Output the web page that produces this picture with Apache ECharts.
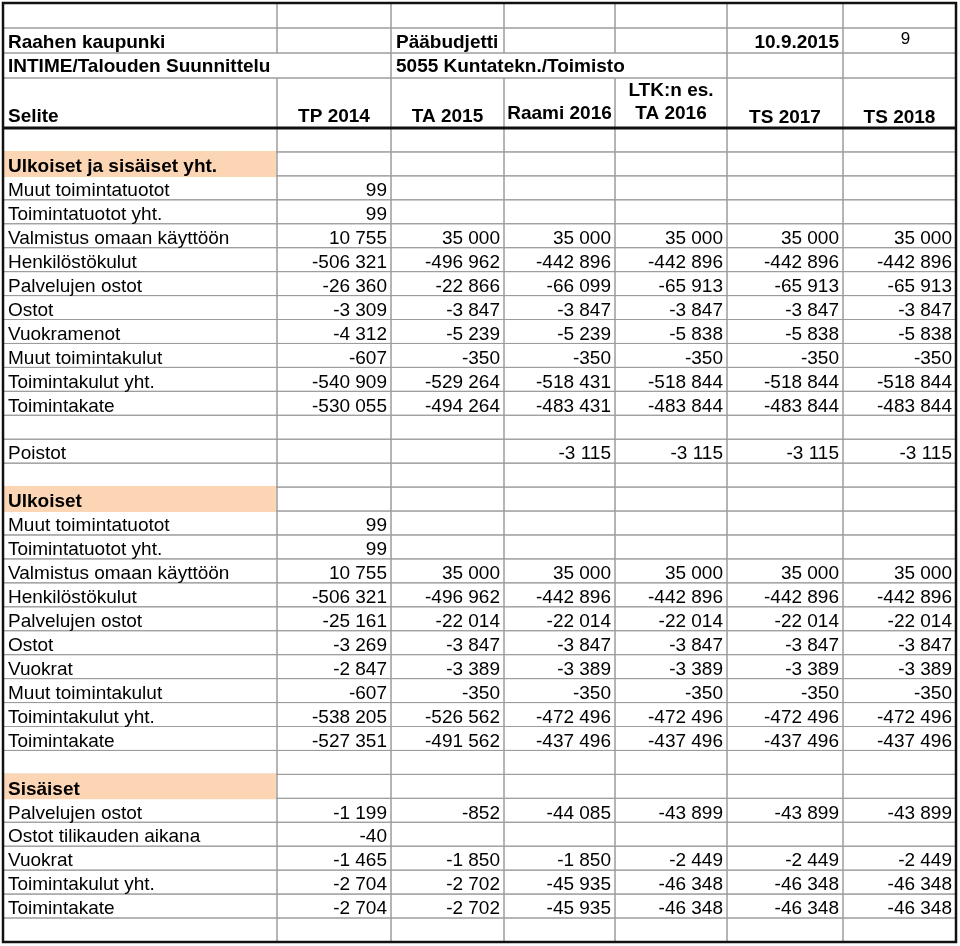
<!DOCTYPE html>
<html>
<head>
<meta charset="utf-8">
<title>Pääbudjetti 5055</title>
<script src="https://cdn.jsdelivr.net/npm/echarts@6/dist/echarts.min.js"></script>
<style>
  html, body { margin: 0; padding: 0; background: #fff; }
  #table { width: 960px; height: 946px; }
</style>
</head>
<body>
<div id="table"></div>
<script>
  // otsikkotiedot
  const orgName = 'Raahen kaupunki'
  const unitName = 'INTIME/Talouden Suunnittelu'
  const budgetName = 'Pääbudjetti'
  const costCenter = '5055 Kuntatekn./Toimisto'
  const printDate = '10.9.2015'
  const pageNo = '9'
  const columnTitles = ['Selite', 'TP 2014', 'TA 2015', 'Raami 2016', 'LTK:n es.\nTA 2016', 'TS 2017', 'TS 2018']

  // rivit (tyhjä = väli)
  const rowLabels = [
    '', 'Ulkoiset ja sisäiset yht.', 'Muut toimintatuotot', 'Toimintatuotot yht.', 'Valmistus omaan käyttöön',
    'Henkilöstökulut', 'Palvelujen ostot', 'Ostot', 'Vuokramenot', 'Muut toimintakulut', 'Toimintakulut yht.',
    'Toimintakate', '', 'Poistot', '',
    'Ulkoiset', 'Muut toimintatuotot', 'Toimintatuotot yht.', 'Valmistus omaan käyttöön', 'Henkilöstökulut',
    'Palvelujen ostot', 'Ostot', 'Vuokrat', 'Muut toimintakulut', 'Toimintakulut yht.', 'Toimintakate', '',
    'Sisäiset', 'Palvelujen ostot', 'Ostot tilikauden aikana', 'Vuokrat', 'Toimintakulut yht.', 'Toimintakate', ''
  ]
  const sectionTitles = ['Ulkoiset ja sisäiset yht.', 'Ulkoiset', 'Sisäiset']

  const tp2014 = [null, null, 99, 99, 10755, -506321, -26360, -3309, -4312, -607, -540909, -530055, null, null, null,
    null, 99, 99, 10755, -506321, -25161, -3269, -2847, -607, -538205, -527351, null,
    null, -1199, -40, -1465, -2704, -2704, null]
  const ta2015 = [null, null, null, null, 35000, -496962, -22866, -3847, -5239, -350, -529264, -494264, null, null, null,
    null, null, null, 35000, -496962, -22014, -3847, -3389, -350, -526562, -491562, null,
    null, -852, null, -1850, -2702, -2702, null]
  const raami2016 = [null, null, null, null, 35000, -442896, -66099, -3847, -5239, -350, -518431, -483431, null, -3115, null,
    null, null, null, 35000, -442896, -22014, -3847, -3389, -350, -472496, -437496, null,
    null, -44085, null, -1850, -45935, -45935, null]
  const ltkTa2016 = [null, null, null, null, 35000, -442896, -65913, -3847, -5838, -350, -518844, -483844, null, -3115, null,
    null, null, null, 35000, -442896, -22014, -3847, -3389, -350, -472496, -437496, null,
    null, -43899, null, -2449, -46348, -46348, null]
  const ts2017 = [null, null, null, null, 35000, -442896, -65913, -3847, -5838, -350, -518844, -483844, null, -3115, null,
    null, null, null, 35000, -442896, -22014, -3847, -3389, -350, -472496, -437496, null,
    null, -43899, null, -2449, -46348, -46348, null]
  const ts2018 = [null, null, null, null, 35000, -442896, -65913, -3847, -5838, -350, -518844, -483844, null, -3115, null,
    null, null, null, 35000, -442896, -22014, -3847, -3389, -350, -472496, -437496, null,
    null, -43899, null, -2449, -46348, -46348, null]

  // asettelu (akselin yksiköissä)
  const colEdges = [0, 274, 388, 501, 612, 724, 840, 953]
  const headHeights = [25, 25, 25, 50]
  const bodyRowHeight = 23.94

  const rowEdges = [0]
  headHeights.forEach(h => rowEdges.push(rowEdges[rowEdges.length - 1] + h))
  rowLabels.forEach(() => rowEdges.push(rowEdges[rowEdges.length - 1] + bodyRowHeight))
  const tableBottom = rowEdges[rowEdges.length - 1]

  const fontFamily = "'Liberation Sans', Arial, sans-serif"

  function fmt(v) {
    if (v === null || v === undefined) return ''
    let s = String(Math.abs(v)).replace(/\B(?=(\d{3})+(?!\d))/g, ' ')
    return (v < 0 ? '-' : '') + s
  }

  // solut
  const cells = []
  function addCell(col, row, span, text, opt) {
    cells.push(Object.assign({ col: col, row: row, span: span, text: text, align: 'left', size: 19, dy: 0 }, opt || {}))
  }
  for (let c = 0; c < 7; c++) addCell(c, 0, 1, '')
  addCell(0, 1, 1, orgName, { bold: true, dy: 1 })
  addCell(1, 1, 1, '')
  addCell(2, 1, 1, budgetName, { bold: true, dy: 1 })
  addCell(3, 1, 1, '')
  addCell(4, 1, 1, '')
  addCell(5, 1, 1, printDate, { bold: true, align: 'right', dy: 1 })
  addCell(6, 1, 1, pageNo, { align: 'center', size: 17, dx: 6, dy: -2 })
  addCell(0, 2, 2, unitName, { bold: true })
  addCell(2, 2, 3, costCenter, { bold: true })
  addCell(5, 2, 1, '')
  addCell(6, 2, 1, '')
  columnTitles.forEach((t, c) => {
    addCell(c, 3, 1, t, { bold: true, align: c === 0 ? 'left' : 'center', valign: 'bottom', pad: (c === 3 || c === 4) ? 3 : (c >= 5 ? -1 : 0) })
  })

  const valueCols = [tp2014, ta2015, raami2016, ltkTa2016, ts2017, ts2018]
  rowLabels.forEach((label, i) => {
    let r = headHeights.length + i
    let isSection = sectionTitles.indexOf(label) > -1
    addCell(0, r, 1, label, { bold: isSection, fill: isSection ? '#FCD5B4' : null, dy: 2 })
    valueCols.forEach((arr, k) => addCell(k + 1, r, 1, fmt(arr[i]), { align: 'right', dy: 2 }))
  })

  function renderCell(params, api) {
    let cell = cells[params.dataIndex]
    let p0 = api.coord([colEdges[cell.col], rowEdges[cell.row]])
    let p1 = api.coord([colEdges[cell.col + cell.span], rowEdges[cell.row + 1]])
    let x0 = p0[0], y0 = p0[1], x1 = p1[0], y1 = p1[1]
    let children = [{
      type: 'rect',
      shape: { x: x0, y: y0, width: x1 - x0, height: y1 - y0 },
      style: { fill: 'none', stroke: '#9c9c9c', lineWidth: 1 },
      z2: 0
    }]
    if (cell.fill) {
      children.push({
        type: 'rect',
        shape: { x: x0 + 1, y: y0 - 1, width: x1 - x0 - 2, height: y1 - y0 + 2 },
        style: { fill: cell.fill },
        z2: 1
      })
    }
    if (cell.text) {
      let tx = cell.align === 'left' ? x0 + 5 : cell.align === 'right' ? x1 - 4 : (x0 + x1) / 2 + (cell.dx || 0)
      let ty = cell.valign === 'bottom' ? y1 - cell.pad : (y0 + y1) / 2 + 1 + cell.dy
      children.push({
        type: 'text',
        x: tx,
        y: ty,
        style: {
          text: cell.text,
          fill: '#000',
          fontSize: cell.size,
          fontFamily: fontFamily,
          fontWeight: cell.bold ? 'bold' : 'normal',
          align: cell.align,
          verticalAlign: cell.valign === 'bottom' ? 'bottom' : 'middle',
          lineHeight: 23
        },
        z2: 2
      })
    }
    return { type: 'group', children: children }
  }

  function renderFrame(params, api) {
    let a = api.coord([colEdges[0], rowEdges[0]])
    let b = api.coord([colEdges[colEdges.length - 1], tableBottom])
    let h = api.coord([0, rowEdges[headHeights.length]])
    return {
      type: 'group',
      children: [
        { type: 'rect', shape: { x: a[0], y: a[1], width: b[0] - a[0], height: b[1] - a[1] },
          style: { fill: 'none', stroke: '#111', lineWidth: 2.5 } },
        { type: 'line', shape: { x1: a[0], y1: h[1], x2: b[0], y2: h[1] },
          style: { stroke: '#111', lineWidth: 3 } }
      ]
    }
  }

  let myChart = echarts.init(document.getElementById('table'))
  let option = {
    animation: false,
    grid: { left: 3, top: 3, width: 953, height: tableBottom },
    xAxis: { type: 'value', min: 0, max: 953, show: false, splitLine: { show: false } },
    yAxis: { type: 'value', min: 0, max: tableBottom, inverse: true, show: false, splitLine: { show: false } },
    series: [
      {
        name: 'solut',
        type: 'custom',
        silent: true,
        renderItem: renderCell,
        data: cells.map(c => [colEdges[c.col], rowEdges[c.row]])
      },
      {
        name: 'kehys',
        type: 'custom',
        silent: true,
        z: 5,
        renderItem: renderFrame,
        data: [[0, 0]]
      }
    ]
  }
  myChart.setOption(option)
</script>
</body>
</html>
